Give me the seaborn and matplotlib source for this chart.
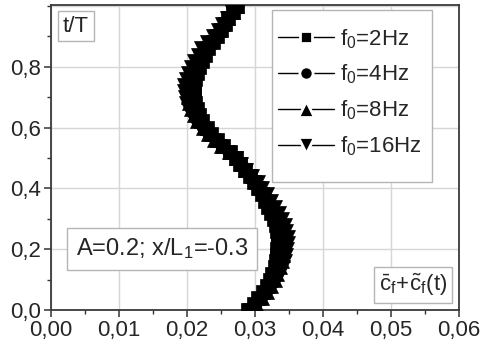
import numpy as np
import pandas as pd
import matplotlib
matplotlib.use("Agg")
import matplotlib.pyplot as plt
import seaborn as sns
from matplotlib.lines import Line2D
from matplotlib.patches import Rectangle
from matplotlib.ticker import FuncFormatter, MultipleLocator

# ---- data ----
t_over_T = [0.00, 0.02, 0.04, 0.06, 0.08, 0.10, 0.12, 0.14, 0.16, 0.18,
            0.20, 0.22, 0.24, 0.26, 0.28, 0.30, 0.32, 0.34, 0.36, 0.38,
            0.40, 0.42, 0.44, 0.46, 0.48, 0.50, 0.52, 0.54, 0.56, 0.58,
            0.60, 0.62, 0.64, 0.66, 0.68, 0.70, 0.72, 0.74, 0.76, 0.78,
            0.80, 0.82, 0.84, 0.86, 0.88, 0.90, 0.92, 0.94, 0.96, 0.98, 1.00]

cf_2Hz = [0.0289, 0.0298, 0.0305, 0.0312, 0.0317, 0.0322, 0.0325, 0.0329, 0.0331, 0.0332,
          0.0333, 0.0334, 0.0334, 0.0332, 0.0331, 0.0328, 0.0323, 0.0319, 0.0314, 0.0310,
          0.0304, 0.0298, 0.0292, 0.0285, 0.0278, 0.0272, 0.0263, 0.0253, 0.0244, 0.0236,
          0.0229, 0.0222, 0.0218, 0.0214, 0.0212, 0.0211, 0.0210, 0.0210, 0.0212, 0.0214,
          0.0218, 0.0222, 0.0226, 0.0231, 0.0238, 0.0244, 0.0250, 0.0256, 0.0261, 0.0267, 0.0274]

cf_4Hz = [0.0290, 0.0300, 0.0308, 0.0315, 0.0321, 0.0325, 0.0329, 0.0333, 0.0335, 0.0337,
          0.0338, 0.0339, 0.0339, 0.0337, 0.0335, 0.0332, 0.0327, 0.0322, 0.0318, 0.0313,
          0.0306, 0.0300, 0.0293, 0.0286, 0.0279, 0.0272, 0.0262, 0.0252, 0.0242, 0.0233,
          0.0225, 0.0219, 0.0214, 0.0210, 0.0207, 0.0206, 0.0205, 0.0205, 0.0207, 0.0210,
          0.0214, 0.0218, 0.0223, 0.0227, 0.0235, 0.0242, 0.0249, 0.0255, 0.0260, 0.0267, 0.0274]

cf_8Hz = [0.0292, 0.0302, 0.0310, 0.0317, 0.0324, 0.0329, 0.0333, 0.0337, 0.0339, 0.0341,
          0.0342, 0.0343, 0.0343, 0.0341, 0.0339, 0.0336, 0.0331, 0.0326, 0.0320, 0.0315,
          0.0308, 0.0302, 0.0295, 0.0286, 0.0279, 0.0272, 0.0262, 0.0250, 0.0240, 0.0231,
          0.0223, 0.0215, 0.0210, 0.0206, 0.0203, 0.0202, 0.0201, 0.0201, 0.0203, 0.0206,
          0.0210, 0.0214, 0.0219, 0.0225, 0.0233, 0.0240, 0.0247, 0.0253, 0.0260, 0.0267, 0.0274]

cf_16Hz = [0.0293, 0.0304, 0.0313, 0.0320, 0.0327, 0.0333, 0.0337, 0.0341, 0.0344, 0.0346,
           0.0347, 0.0348, 0.0348, 0.0346, 0.0344, 0.0340, 0.0335, 0.0329, 0.0324, 0.0318,
           0.0311, 0.0304, 0.0296, 0.0287, 0.0280, 0.0272, 0.0261, 0.0249, 0.0238, 0.0228,
           0.0219, 0.0211, 0.0206, 0.0202, 0.0198, 0.0197, 0.0196, 0.0196, 0.0198, 0.0202,
           0.0206, 0.0210, 0.0216, 0.0221, 0.0230, 0.0238, 0.0246, 0.0252, 0.0259, 0.0266, 0.0274]

series_labels = ["f0=2Hz", "f0=4Hz", "f0=8Hz", "f0=16Hz"]
legend_texts = [r"f$\mathregular{_0}$=2Hz", r"f$\mathregular{_0}$=4Hz",
                r"f$\mathregular{_0}$=8Hz", r"f$\mathregular{_0}$=16Hz"]
series_values = [cf_2Hz, cf_4Hz, cf_8Hz, cf_16Hz]
marker_styles = ["s", "o", "^", "v"]
legend_marker_sizes = [8.5, 9.5, 11.5, 11.5]

x_ticks = [0.00, 0.01, 0.02, 0.03, 0.04, 0.05, 0.06]
y_ticks = [0.0, 0.2, 0.4, 0.6, 0.8]

# ---- build long table ----
frames = []
for lab, vals in zip(series_labels, series_values):
    frames.append(pd.DataFrame({"cf": vals, "t": t_over_T, "series": lab}))
df = pd.concat(frames, ignore_index=True)

sns.set_theme(style="white")
plt.rcParams["font.family"] = ["Liberation Sans", "DejaVu Sans"]
plt.rcParams["mathtext.fontset"] = "custom"
plt.rcParams["mathtext.rm"] = "Liberation Sans"
plt.rcParams["mathtext.it"] = "Liberation Sans:italic"

fig = plt.figure(figsize=(4.83, 3.5), dpi=100)
ax = fig.add_axes([51 / 483, 40 / 350, 408 / 483, 305 / 350])

sns.lineplot(data=df, x="cf", y="t", hue="series", style="series",
             markers=dict(zip(series_labels, marker_styles)), dashes=False,
             palette=["black"] * 4, sort=False, estimator=None, legend=False,
             markersize=9.5, markeredgecolor="black", markeredgewidth=0.5,
             linewidth=1.0, ax=ax, zorder=3)

ax.set_xlim(0.0, 0.06)
ax.set_ylim(0.0, 1.003)
ax.set_xticks(x_ticks)
ax.set_yticks(y_ticks)
ax.xaxis.set_minor_locator(MultipleLocator(0.005))
ax.yaxis.set_minor_locator(MultipleLocator(0.1))
ax.xaxis.set_major_formatter(FuncFormatter(lambda v, p: f"{v:.2f}".replace(".", ",")))
ax.yaxis.set_major_formatter(FuncFormatter(lambda v, p: f"{v:.1f}".replace(".", ",")))
ax.set_xlabel("")
ax.set_ylabel("")

ax.grid(True, which="major", color="#d6d6d6", linewidth=1.0, zorder=0)
ax.axhline(1.0, color="#d6d6d6", lw=1.0, zorder=0)
ax.set_axisbelow(True)
for s in ax.spines.values():
    s.set_visible(True)
    s.set_color("#3a3a3a")
    s.set_linewidth(1.3)

ax.tick_params(axis="both", which="major", direction="out", length=5, width=1.1,
               color="#333333", labelsize=16, pad=2, bottom=True, left=True)
ax.tick_params(axis="both", which="minor", direction="out", length=3, width=1.0,
               color="#333333", bottom=True, left=True)
ax.tick_params(axis="both", which="both", top=False, right=False)

# legend frame (drawn as a plain box)
x0 = (272 - 51) / 408
x1 = (432 - 51) / 408
y0 = (310 - 182) / 305
y1 = (310 - 10) / 305
ax.add_patch(Rectangle((x0, y0), x1 - x0, y1 - y0, transform=ax.transAxes,
                       facecolor="white", edgecolor="#b5b5b5", linewidth=1.0, zorder=5))

handles = [Line2D([], [], color="black", lw=1.0, marker=m, markersize=ms,
                  markerfacecolor="black", markeredgecolor="white", markeredgewidth=2.0)
           for m, ms in zip(marker_styles, legend_marker_sizes)]
leg = ax.legend(handles, legend_texts, loc="upper left",
                bbox_to_anchor=((278 - 51) / 408, (310 - 27) / 305),
                frameon=False, fontsize=16, handlelength=2.5, handletextpad=0.3,
                labelspacing=0.55, borderpad=0, borderaxespad=0, numpoints=1)
leg.set_zorder(6)

ax.text((76 - 51) / 408, (310 - 26) / 305, "t/T", transform=ax.transAxes,
        fontsize=16, ha="center", va="center",
        bbox=dict(boxstyle="square,pad=0.22", facecolor="white", edgecolor="#b5b5b5",
                  linewidth=1.0), zorder=7)
ax.text((162 - 51) / 408, (310 - 249) / 305, r"A=0.2; x/L$\mathregular{_1}$=-0.3",
        transform=ax.transAxes, fontsize=17, ha="center", va="center",
        bbox=dict(boxstyle="square,pad=0.38", facecolor="white", edgecolor="#b5b5b5",
                  linewidth=1.0), zorder=7)
ax.text((413 - 51) / 408, (310 - 285) / 305,
        r"$\mathregular{\bar{c}_f\!+\!\tilde{c}_f(t)}$",
        transform=ax.transAxes, fontsize=16, ha="center", va="center",
        bbox=dict(boxstyle="square,pad=0.22", facecolor="white", edgecolor="#b5b5b5",
                  linewidth=1.0), zorder=7)

fig.savefig("out.png", dpi=100)
